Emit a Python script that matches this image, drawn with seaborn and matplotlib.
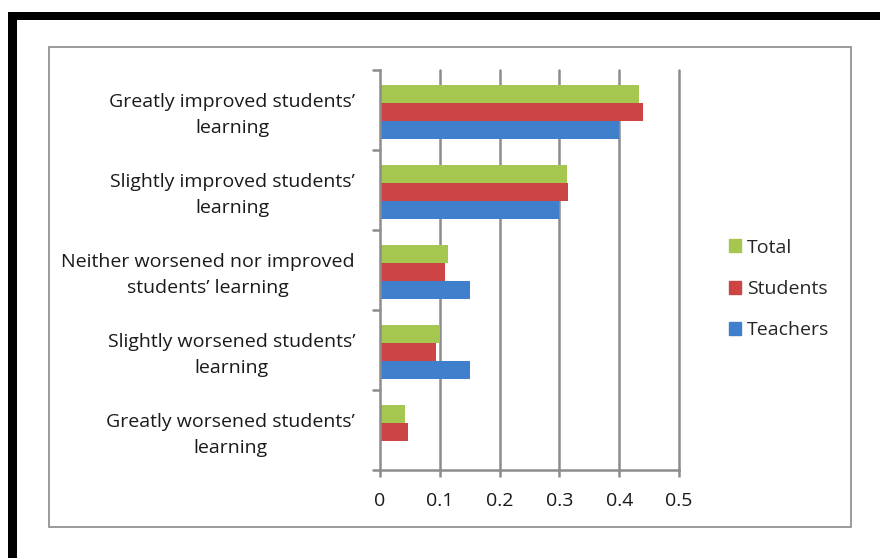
import numpy as np
import pandas as pd
import matplotlib
matplotlib.use("Agg")
import matplotlib.pyplot as plt
from matplotlib.patches import Rectangle
from matplotlib.transforms import ScaledTranslation
import seaborn as sns

categories = [
    "Greatly improved students’\nlearning",
    "Slightly improved students’\nlearning",
    "Neither worsened nor improved\nstudents’ learning",
    "Slightly worsened students’\nlearning",
    "Greatly worsened students’\nlearning",
]
series = ["Total", "Students", "Teachers"]
total = [0.433, 0.312, 0.113, 0.100, 0.041]
students = [0.439, 0.314, 0.108, 0.094, 0.047]
teachers = [0.400, 0.300, 0.150, 0.150, 0.000]
x_ticks = [0, 0.1, 0.2, 0.3, 0.4, 0.5]
x_tick_labels = ["0", "0.1", "0.2", "0.3", "0.4", "0.5"]

colors = {"Total": "#A5C74F", "Students": "#CC4444", "Teachers": "#3F7FCB"}

df = pd.DataFrame({
    "category": categories * 3,
    "series": [s for s in series for _ in categories],
    "value": total + students + teachers,
})

sns.set_theme(style="white")
plt.rcParams["font.family"] = ["Open Sans", "DejaVu Sans"]

W, H = 880, 558
fig = plt.figure(figsize=(W / 100, H / 100), dpi=100)
fig.patch.set_facecolor("white")

# plot area in pixel coordinates
x0, x1, ytop, ybot = 380, 679, 70, 470
ax = fig.add_axes([x0 / W, 1 - ybot / H, (x1 - x0) / W, (ybot - ytop) / H])

sns.barplot(data=df, x="value", y="category", hue="series", hue_order=series,
            palette=colors, orient="h", width=0.675, gap=0, ax=ax,
            saturation=1, edgecolor="none", linewidth=0, legend=False)

ax.set_xlim(0, 0.5)
ax.set_ylim(4.475, -0.525)
ax.set_xlabel("")
ax.set_ylabel("")
ax.set_xticks(x_ticks)
ax.set_xticklabels(x_tick_labels)

grid_c = "#8C8C8C"
for v in x_ticks[1:]:
    ax.axvline(v, color=grid_c, lw=1.8, zorder=0, clip_on=False)

for side in ["top", "right"]:
    ax.spines[side].set_visible(False)
for side in ["left", "bottom"]:
    ax.spines[side].set_color(grid_c)
    ax.spines[side].set_linewidth(1.8)

label_fs = 14
ax.set_yticks(np.arange(5))
ax.set_yticklabels(categories, ha="right", multialignment="center",
                   fontsize=label_fs, color="#1a1a1a", linespacing=1.55)
ax.tick_params(axis="y", length=0, pad=(x0 - 355) * 0.72)
# nudge the category labels up a little
lift = ScaledTranslation(0, 3 / 100, fig.dpi_scale_trans)
for lbl in ax.get_yticklabels():
    lbl.set_transform(lbl.get_transform() + lift)
# category boundary tick marks
for b in np.arange(-0.525, 5.0, 1.0):
    ax.plot([-0.022, 0], [b, b], color=grid_c, lw=1.8, clip_on=False,
            transform=ax.get_yaxis_transform())
ax.tick_params(axis="x", length=5, width=1.8, color=grid_c, direction="out",
               labelsize=label_fs, labelcolor="#1a1a1a", pad=11)
ax.xaxis.set_ticks_position("bottom")

# legend
handles = [Rectangle((0, 0), 1, 1, color=colors[s]) for s in series]
fig.legend(handles, series, loc="upper left",
           bbox_to_anchor=(719 / W, 1 - 229 / H), frameon=False,
           fontsize=label_fs, handlelength=0.65, handleheight=0.65,
           handletextpad=0.3, labelspacing=1.2, borderpad=0)

# chart frame and outer border
fig.add_artist(Rectangle((49 / W, 1 - 527 / H), (851 - 49) / W, (527 - 47) / H,
                         transform=fig.transFigure, fill=False,
                         edgecolor="#8A8A8A", lw=1.2))
fig.add_artist(Rectangle((8 / W, 1 - 20 / H), (W - 8) / W, 8 / H,
                         transform=fig.transFigure, color="black", lw=0))
fig.add_artist(Rectangle((8 / W, 0), 9 / W, 1 - 12 / H,
                         transform=fig.transFigure, color="black", lw=0))

fig.savefig("out.png", dpi=100, facecolor="white")
